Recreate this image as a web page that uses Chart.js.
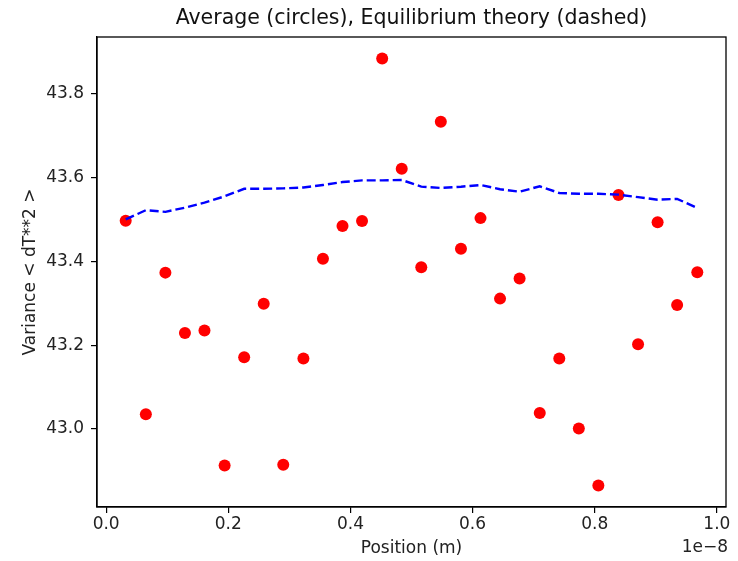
<!DOCTYPE html>
<html>
<head>
<meta charset="utf-8">
<script src="https://cdn.jsdelivr.net/npm/chart.js@4"></script>
<style>
  html, body { margin: 0; padding: 0; background: #fff; }
  #wrap { width: 738px; height: 561px; }
</style>
</head>
<body>
<div id="wrap"><canvas id="varChart" width="738" height="561"></canvas></div>
<script>
// positions in units of 1e-8 m
const positions = [0.032, 0.065, 0.097, 0.129, 0.161, 0.194, 0.226, 0.258, 0.290, 0.323,
                   0.355, 0.387, 0.419, 0.452, 0.484, 0.516, 0.548, 0.581, 0.613, 0.645,
                   0.677, 0.710, 0.742, 0.774, 0.806, 0.839, 0.871, 0.903, 0.935, 0.968];

// measured average (circles)
const averageVar = [43.497, 43.035, 43.373, 43.229, 43.235, 42.913, 43.171, 43.299, 42.915, 43.168,
                    43.406, 43.484, 43.496, 43.884, 43.621, 43.386, 43.733, 43.430, 43.503, 43.311,
                    43.359, 43.038, 43.168, 43.001, 42.865, 43.558, 43.202, 43.493, 43.296, 43.374];

// equilibrium theory (dashed)
const theoryVar = [43.500, 43.522, 43.518, 43.528, 43.540, 43.555, 43.573, 43.573, 43.574, 43.576,
                   43.582, 43.589, 43.593, 43.593, 43.594, 43.578, 43.575, 43.578, 43.582, 43.572,
                   43.566, 43.579, 43.563, 43.561, 43.561, 43.559, 43.553, 43.547, 43.549, 43.527];

const xTicks = [0.0, 0.2, 0.4, 0.6, 0.8, 1.0];
const yTicks = [43.0, 43.2, 43.4, 43.6, 43.8];

const FONT = "'DejaVu Sans', sans-serif";

// matplotlib-like box around the axes + the 1e-8 offset label
const framePlugin = {
    id: 'frame',
    afterDraw(chart) {
        const { ctx, chartArea } = chart;
        ctx.save();
        ctx.strokeStyle = '#000';
        ctx.lineWidth = 1.3;
        ctx.strokeRect(chartArea.left, chartArea.top,
                       chartArea.right - chartArea.left, chartArea.bottom - chartArea.top);
        ctx.fillStyle = '#222';
        ctx.font = "17px " + FONT;
        ctx.textAlign = 'right';
        ctx.textBaseline = 'middle';
        ctx.fillText('1e\u22128', chartArea.right + 2, chartArea.bottom + 41);
        ctx.restore();
    }
};

const ctx = document.getElementById('varChart').getContext('2d');
new Chart(ctx, {
    type: 'scatter',
    data: {
        datasets: [
            {
                label: 'Equilibrium theory',
                type: 'line',
                data: positions.map((x, i) => ({ x: x, y: theoryVar[i] })),
                borderColor: '#0000ff',
                borderWidth: 2.4,
                borderDash: [9, 4],
                pointRadius: 0,
                fill: false,
                tension: 0
            },
            {
                label: 'Average',
                data: positions.map((x, i) => ({ x: x, y: averageVar[i] })),
                backgroundColor: '#ff0000',
                borderColor: '#ff0000',
                pointRadius: 6,
                pointBorderWidth: 0
            }
        ]
    },
    options: {
        responsive: false,
        animation: false,
        layout: { padding: { top: 0, right: 12, bottom: 0, left: 0 } },
        plugins: {
            legend: { display: false },
            tooltip: { enabled: false },
            title: {
                display: true,
                fullSize: false,
                text: 'Average (circles), Equilibrium theory (dashed)',
                color: '#111',
                font: { family: FONT, size: 20.5, weight: 'normal' },
                padding: { top: 6, bottom: 6.4 }
            }
        },
        scales: {
            x: {
                type: 'linear',
                min: -0.015, max: 1.015,
                afterBuildTicks: (s) => { s.ticks = xTicks.map(v => ({ value: v })); },
                afterFit: (s) => { s.height = 54; },
                border: { display: true, color: '#000', width: 1.3 },
                grid: { display: true, drawOnChartArea: false, drawTicks: true, tickLength: 6, color: '#000', lineWidth: 1.2 },
                ticks: {
                    color: '#222', padding: 1,
                    font: { family: FONT, size: 17 },
                    callback: (v) => v.toFixed(1)
                },
                title: {
                    display: true, text: 'Position (m)', color: '#222',
                    font: { family: FONT, size: 17 },
                    padding: { top: 0, bottom: 2 }
                }
            },
            y: {
                min: 42.814, max: 43.935,
                afterBuildTicks: (s) => { s.ticks = yTicks.map(v => ({ value: v })); },
                afterFit: (s) => { s.width = 97; },
                border: { display: true, color: '#000', width: 1.3 },
                grid: { display: true, drawOnChartArea: false, drawTicks: true, tickLength: 6, color: '#000', lineWidth: 1.2 },
                ticks: {
                    color: '#222', padding: 7,
                    font: { family: FONT, size: 17 },
                    callback: (v) => v.toFixed(1)
                },
                title: {
                    display: true, text: 'Variance < dT**2 >', color: '#222',
                    font: { family: FONT, size: 17 },
                    padding: { top: 20, bottom: 0 }
                }
            }
        }
    },
    plugins: [framePlugin]
});
</script>
</body>
</html>
